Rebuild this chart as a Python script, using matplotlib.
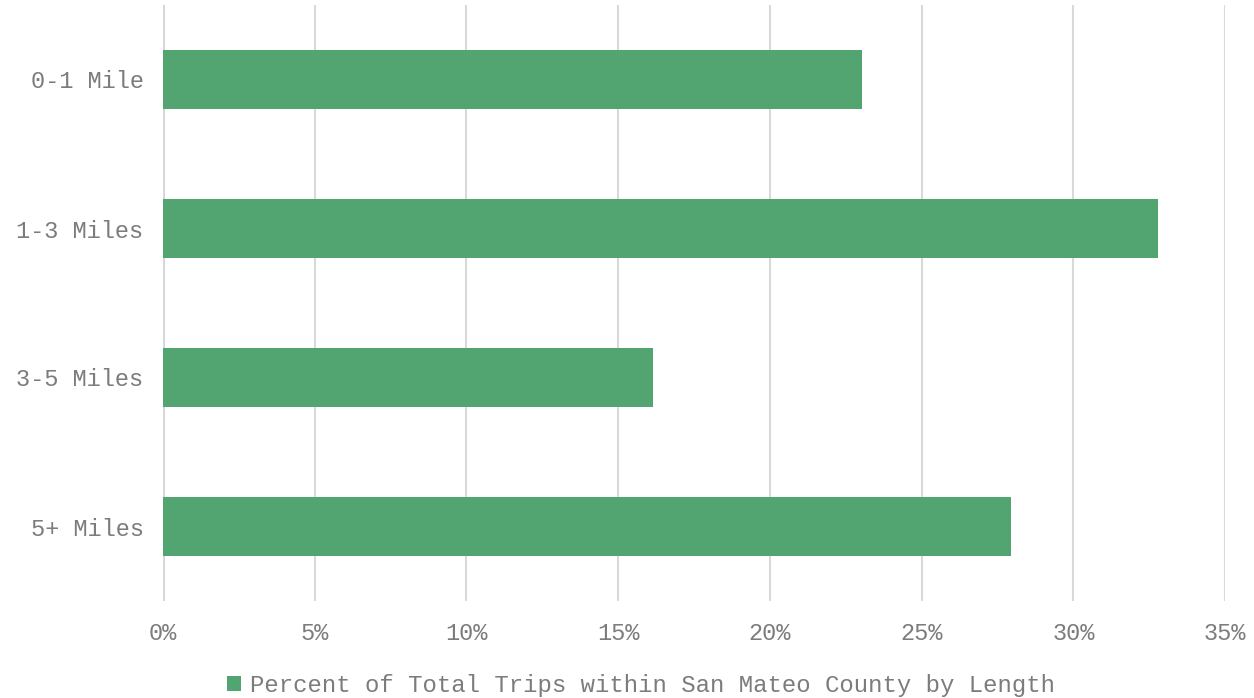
import matplotlib.pyplot as plt
from matplotlib.ticker import FuncFormatter

categories = ['0-1 Mile', '1-3 Miles', '3-5 Miles', '5+ Miles']
values = [23.05, 32.8, 16.15, 27.95]
series_name = 'Percent of Total Trips within San Mateo County by Length'
xticks = [0, 5, 10, 15, 20, 25, 30, 35]

bar_color = '#52A571'
text_color = '#7C7C7C'
grid_color = '#D9D9D9'

plt.rcParams['font.family'] = ['Liberation Mono', 'DejaVu Sans Mono']

fig = plt.figure(figsize=(12.54, 6.98), dpi=100)
ax = fig.add_axes([163 / 1254, 1 - 601 / 698, (1225 - 163) / 1254, (601 - 5) / 698])

ax.barh(categories, values, height=0.4, color=bar_color, label=series_name, zorder=3)

ax.set_xlim(0, 35)
ax.set_ylim(3.5, -0.5)
ax.set_xticks(xticks)
ax.xaxis.set_major_formatter(FuncFormatter(lambda v, p: f'{v:.0f}%'))
ax.grid(axis='x', color=grid_color, linewidth=1.5, zorder=0)
ax.axvline(0, color='#CFCFCF', linewidth=2, zorder=1)
ax.tick_params(axis='both', length=0, labelsize=17, colors=text_color)
ax.tick_params(axis='x', pad=15)
ax.tick_params(axis='y', pad=14)
for s in ax.spines.values():
    s.set_visible(False)

# legend sits centred under the plot area
fig.legend(loc='lower center', bbox_to_anchor=(0.511, -0.03), frameon=False,
           fontsize=17.3, labelcolor=text_color, handlelength=0.6, handleheight=0.6,
           handletextpad=0.35)

fig.savefig('out.png', dpi=100)
